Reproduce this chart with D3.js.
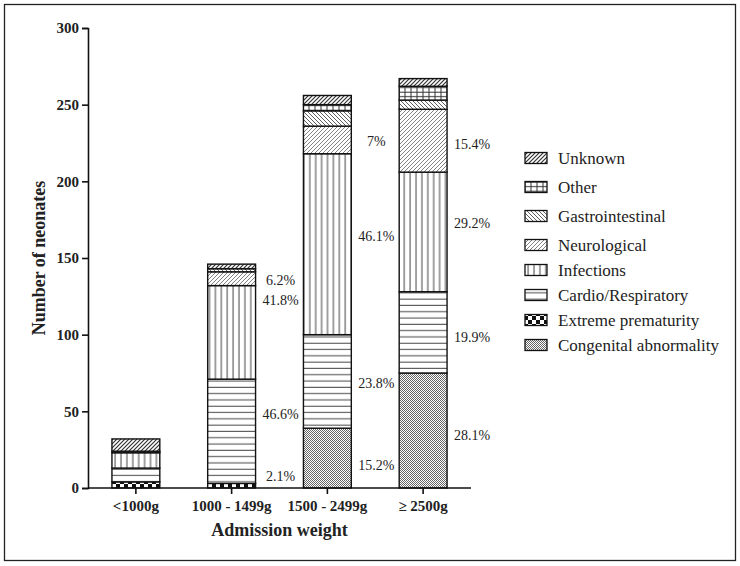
<!DOCTYPE html>
<html>
<head>
<meta charset="utf-8">
<script src="https://cdn.jsdelivr.net/npm/d3@7/dist/d3.min.js"></script>
<style>
  html, body { margin: 0; padding: 0; background: #fff; }
  svg { display: block; }
  text { font-family: "Liberation Serif", "Times New Roman", serif; fill: #222; }
</style>
</head>
<body>
<svg id="chart" width="740" height="566"></svg>
<script>
// ---------- data ----------
const categories = ["<1000g", "1000 - 1499g", "1500 - 2499g", "\u2265 2500g"];
const causes = ["Congenital abnormality", "Extreme prematurity", "Cardio/Respiratory", "Infections",
                "Neurological", "Gastrointestinal", "Other", "Unknown"];   // bottom -> top
const congenital   = [0, 0, 39, 75];
const extremePrem  = [4, 3, 0, 0];
const cardio       = [9, 68, 61, 53];
const infections   = [10, 61, 118, 78];
const neurological = [0, 9, 18, 41];
const gastro       = [1, 2, 10, 6];
const other        = [0, 0, 4, 9];
const unknown      = [8, 3, 6, 5];
const yTicks = [0, 50, 100, 150, 200, 250, 300];

// percentage annotations: category, text, value level where the label sits
const pctCat  = ["1000 - 1499g", "1000 - 1499g", "1000 - 1499g", "1000 - 1499g",
                 "1500 - 2499g", "1500 - 2499g", "1500 - 2499g", "1500 - 2499g",
                 "\u2265 2500g", "\u2265 2500g", "\u2265 2500g", "\u2265 2500g"];
const pctText = ["6.2%", "41.8%", "46.6%", "2.1%",
                 "7%", "46.1%", "23.8%", "15.2%",
                 "15.4%", "29.2%", "19.9%", "28.1%"];
const pctAt   = [135.5, 122.5, 48.5, 8,
                 226, 164, 68.5, 15,
                 224.5, 173, 98.5, 34.5];

const seriesValues = [congenital, extremePrem, cardio, infections, neurological, gastro, other, unknown];
const patternIds = ["pCong", "pExt", "pCardio", "pInf", "pNeuro", "pGastro", "pOther", "pUnk"];

// ---------- layout ----------
const svg = d3.select("#chart");
const x0 = 88, x1 = 471, yTop = 28, yBot = 488;

const x = d3.scaleBand().domain(categories).range([x0, x1]).paddingInner(0.5).paddingOuter(0.25);
const y = d3.scaleLinear().domain([0, 300]).range([yBot, yTop]);

// outer frame
svg.append("rect").attr("x", 4.5).attr("y", 4.5).attr("width", 731).attr("height", 556)
  .attr("fill", "none").attr("stroke", "#222").attr("stroke-width", 1.3);

// ---------- patterns ----------
const defs = svg.append("defs");
function pat(id, w, h) {
  const p = defs.append("pattern").attr("id", id).attr("patternUnits", "userSpaceOnUse")
    .attr("width", w).attr("height", h);
  p.append("rect").attr("width", w).attr("height", h).attr("fill", "#fff");
  return p;
}
// Congenital: fine checker
{
  const p = pat("pCong", 2, 2);
  p.append("rect").attr("x", 0).attr("y", 0).attr("width", 1).attr("height", 1).attr("fill", "#666");
  p.append("rect").attr("x", 1).attr("y", 1).attr("width", 1).attr("height", 1).attr("fill", "#666");
}
// Extreme prematurity: coarse checker
{
  const p = pat("pExt", 8, 8);
  p.append("rect").attr("x", 0).attr("y", 0).attr("width", 4).attr("height", 4).attr("fill", "#111");
  p.append("rect").attr("x", 4).attr("y", 4).attr("width", 4).attr("height", 4).attr("fill", "#111");
}
// Cardio: horizontal lines
{
  const p = pat("pCardio", 6, 6.3);
  p.append("line").attr("x1", 0).attr("x2", 6).attr("y1", 3).attr("y2", 3).attr("stroke", "#444").attr("stroke-width", 1);
}
// Infections: vertical lines
{
  const p = pat("pInf", 5.9, 6);
  p.append("line").attr("x1", 3).attr("x2", 3).attr("y1", 0).attr("y2", 6).attr("stroke", "#444").attr("stroke-width", 1);
}
// Neurological: forward diagonal
{
  const p = pat("pNeuro", 4, 4);
  p.append("path").attr("d", "M-1,1 L1,-1 M0,4 L4,0 M3,5 L5,3").attr("stroke", "#555").attr("stroke-width", 0.75);
}
// Gastro: back diagonal
{
  const p = pat("pGastro", 4, 4);
  p.append("path").attr("d", "M-1,3 L1,5 M0,0 L4,4 M3,-1 L5,1").attr("stroke", "#444").attr("stroke-width", 0.85);
}
// Other: grid
{
  const p = pat("pOther", 6, 4.5);
  p.append("line").attr("x1", 3).attr("x2", 3).attr("y1", 0).attr("y2", 4.5).attr("stroke", "#333").attr("stroke-width", 1);
  p.append("line").attr("x1", 0).attr("x2", 6).attr("y1", 2.2).attr("y2", 2.2).attr("stroke", "#333").attr("stroke-width", 1);
}
// Unknown: bold forward diagonal
{
  const p = pat("pUnk", 4, 4);
  p.append("path").attr("d", "M-1,1 L1,-1 M0,4 L4,0 M3,5 L5,3").attr("stroke", "#333").attr("stroke-width", 1.2);
}

// ---------- stacked bars ----------
const rows = categories.map((c, i) => {
  const r = { cat: c };
  causes.forEach((k, j) => { r[k] = seriesValues[j][i]; });
  return r;
});
const stacked = d3.stack().keys(causes)(rows);

const g = svg.append("g");
stacked.forEach((layer, j) => {
  g.selectAll(null).data(layer.filter(d => d[1] - d[0] > 0)).enter().append("rect")
    .attr("x", d => x(d.data.cat))
    .attr("width", x.bandwidth())
    .attr("y", d => y(d[1]))
    .attr("height", d => y(d[0]) - y(d[1]))
    .attr("fill", `url(#${patternIds[j]})`)
    .attr("stroke", "#111")
    .attr("stroke-width", 1.4);
});

// ---------- percentage labels ----------
svg.append("g").selectAll("text").data(pctText).enter().append("text")
  .attr("x", (d, i) => x(pctCat[i]) + x.bandwidth() + 25)
  .attr("y", (d, i) => y(pctAt[i]))
  .attr("dy", "0.35em")
  .attr("text-anchor", "middle")
  .style("font-size", "14px")
  .text(d => d);

// ---------- axes ----------
const yAxis = svg.append("g").attr("transform", `translate(${x0},0)`)
  .call(d3.axisLeft(y).tickValues(yTicks).tickSize(6).tickPadding(3));
const xAxis = svg.append("g").attr("transform", `translate(0,${yBot})`)
  .call(d3.axisBottom(x).tickSize(6).tickPadding(6).tickSizeOuter(0));
[yAxis, xAxis].forEach(a => {
  a.select(".domain").attr("stroke", "#111").attr("stroke-width", 1.6);
  a.selectAll(".tick line").attr("stroke", "#111").attr("stroke-width", 1.6);
  a.selectAll(".tick text").attr("fill", "#222")
    .style("font-family", "'Liberation Serif', 'Times New Roman', serif")
    .style("font-weight", "bold").style("font-size", "15px");
});
xAxis.select(".domain").attr("d", `M${x0},0H${x1}`);

// axis titles
svg.append("text")
  .attr("transform", `translate(45,${(yTop + yBot) / 2}) rotate(-90)`)
  .attr("text-anchor", "middle")
  .style("font-weight", "bold").style("font-size", "18px")
  .text("Number of neonates");
svg.append("text")
  .attr("x", (x0 + x1) / 2).attr("y", 536)
  .attr("text-anchor", "middle")
  .style("font-weight", "bold").style("font-size", "18px")
  .text("Admission weight");

// ---------- legend ----------
const legendOrder = causes.slice().reverse();
const legendY = [158, 187, 216, 245, 270, 295, 320, 345];
const lg = svg.append("g");
legendOrder.forEach((name, i) => {
  const j = causes.indexOf(name);
  lg.append("rect").attr("x", 525).attr("y", legendY[i] - 5.5).attr("width", 22).attr("height", 11)
    .attr("fill", `url(#${patternIds[j]})`).attr("stroke", "#111").attr("stroke-width", 1.3);
  lg.append("text").attr("x", 558).attr("y", legendY[i]).attr("dy", "0.35em")
    .style("font-size", "17px").text(name);
});
</script>
</body>
</html>
